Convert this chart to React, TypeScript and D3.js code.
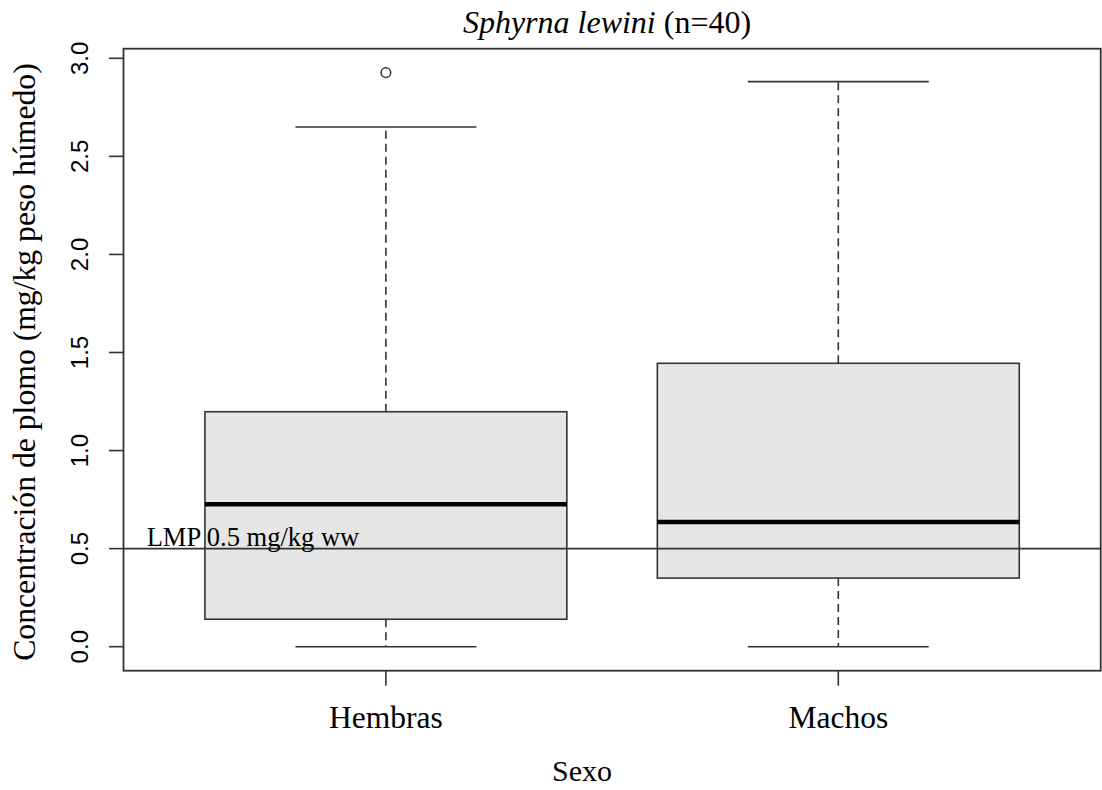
import * as d3 from 'd3';

const categories = ['Hembras', 'Machos'];
const whiskerLow = [0, 0];
const q1 = [0.14, 0.35];
const median = [0.726, 0.636];
const q3 = [1.198, 1.445];
const whiskerHigh = [2.65, 2.881];
const outliers = [[2.927], []];
const yTicks = [0, 0.5, 1, 1.5, 2, 2.5, 3];
const limitValue = 0.5;
const limitLabel = 'LMP 0.5 mg/kg ww';

const width = 1102;
const height = 790;
const plot = { left: 123.5, right: 1100.7, top: 48.7, bottom: 670.7 };
const serif = '"Liberation Serif", serif';
const sans = '"Liberation Sans", sans-serif';
const ink = '#333';

export default function App() {
  const x = d3.scaleLinear().domain([0.42, 2.58]).range([plot.left, plot.right]);
  const y = d3.scaleLinear().domain([-0.1224, 3.049]).range([plot.bottom, plot.top]);
  const fmt = d3.format('.1f');
  const boxHalf = x(1.4) - x(1);
  const stapleHalf = x(1.2) - x(1);

  return (
    <svg
      width={width}
      height={height}
      style={{ position: 'absolute', left: 0, top: 0, background: '#fff' }}
    >
      {categories.map((cat, i) => {
        const cx = x(i + 1);
        return (
          <g key={cat}>
            <line x1={cx} x2={cx} y1={y(q3[i])} y2={y(whiskerHigh[i])} stroke={ink} strokeWidth={1.6} strokeDasharray="8,5" />
            <line x1={cx} x2={cx} y1={y(q1[i])} y2={y(whiskerLow[i])} stroke={ink} strokeWidth={1.6} strokeDasharray="8,5" />
            <line x1={cx - stapleHalf} x2={cx + stapleHalf} y1={y(whiskerHigh[i])} y2={y(whiskerHigh[i])} stroke={ink} strokeWidth={1.6} />
            <line x1={cx - stapleHalf} x2={cx + stapleHalf} y1={y(whiskerLow[i])} y2={y(whiskerLow[i])} stroke={ink} strokeWidth={1.6} />
            <rect
              x={cx - boxHalf}
              y={y(q3[i])}
              width={boxHalf * 2}
              height={y(q1[i]) - y(q3[i])}
              fill="#e6e6e6"
              stroke={ink}
              strokeWidth={1.6}
            />
            <line x1={cx - boxHalf} x2={cx + boxHalf} y1={y(median[i])} y2={y(median[i])} stroke="#000" strokeWidth={4.5} />
            {outliers[i].map((v, j) => (
              <circle key={j} cx={cx} cy={y(v)} r={4.8} fill="none" stroke={ink} strokeWidth={1.5} />
            ))}
          </g>
        );
      })}

      {/* limit line drawn over the boxes */}
      <line
        x1={plot.left}
        x2={plot.right}
        y1={y(limitValue)}
        y2={y(limitValue)}
        stroke={ink}
        strokeWidth={1.6}
      />
      <text x={146.7} y={546} fontFamily={serif} fontSize={26.5} fill="#000">
        {limitLabel}
      </text>

      {/* frame */}
      <rect
        x={plot.left}
        y={plot.top}
        width={plot.right - plot.left}
        height={plot.bottom - plot.top}
        fill="none"
        stroke={ink}
        strokeWidth={1.8}
      />

      {/* y axis */}
      {yTicks.map((t) => (
        <g key={t}>
          <line x1={109} x2={plot.left} y1={y(t)} y2={y(t)} stroke={ink} strokeWidth={1.6} />
          <text
            transform={`translate(88,${y(t)}) rotate(-90)`}
            textAnchor="middle"
            fontFamily={sans}
            fontSize={24}
            fill="#000"
          >
            {fmt(t)}
          </text>
        </g>
      ))}

      {/* x axis */}
      {categories.map((cat, i) => (
        <g key={cat}>
          <line x1={x(i + 1)} x2={x(i + 1)} y1={plot.bottom} y2={685.7} stroke={ink} strokeWidth={1.6} />
          <text x={x(i + 1)} y={728} textAnchor="middle" fontFamily={serif} fontSize={31.5} fill="#000">
            {cat}
          </text>
        </g>
      ))}

      <text x={582} y={781} textAnchor="middle" fontFamily={serif} fontSize={30} fill="#000">
        Sexo
      </text>
      <text
        transform="translate(35,362) rotate(-90)"
        textAnchor="middle"
        fontFamily={serif}
        fontSize={31.7}
        fill="#000"
      >
        Concentración de plomo (mg/kg peso húmedo)
      </text>
      <text x={607} y={33} textAnchor="middle" fontFamily={serif} fontSize={32} fill="#000">
        <tspan fontStyle="italic">Sphyrna lewini</tspan> (n=40)
      </text>
    </svg>
  );
}
